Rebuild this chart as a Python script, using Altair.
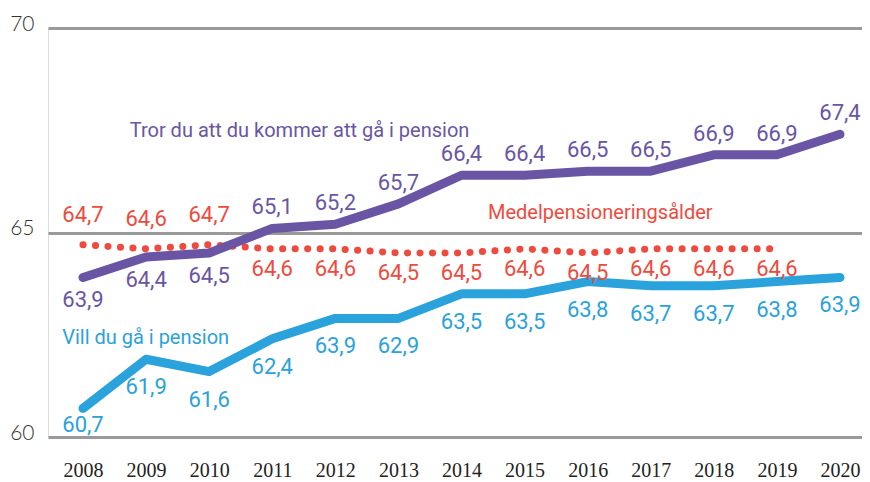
import altair as alt
import pandas as pd

years = list(range(2008, 2021))
tror = [63.9, 64.4, 64.5, 65.1, 65.2, 65.7, 66.4, 66.4, 66.5, 66.5, 66.9, 66.9, 67.4]
tror_labels = ["63,9", "64,4", "64,5", "65,1", "65,2", "65,7", "66,4", "66,4", "66,5", "66,5", "66,9", "66,9", "67,4"]
medel_years = list(range(2008, 2020))
medel = [64.7, 64.6, 64.7, 64.6, 64.6, 64.5, 64.5, 64.6, 64.5, 64.6, 64.6, 64.6]
medel_labels = ["64,7", "64,6", "64,7", "64,6", "64,6", "64,5", "64,5", "64,6", "64,5", "64,6", "64,6", "64,6"]
vill = [60.7, 61.9, 61.6, 62.4, 62.9, 62.9, 63.5, 63.5, 63.8, 63.7, 63.7, 63.8, 63.9]
vill_labels = ["60,7", "61,9", "61,6", "62,4", "63,9", "62,9", "63,5", "63,5", "63,8", "63,7", "63,7", "63,8", "63,9"]

series_names = ["Tror du att du kommer att gå i pension", "Medelpensioneringsålder", "Vill du gå i pension"]
ann_x = [2008.74, 2014.42, 2007.67]
ann_y = [67.48, 65.48, 62.42]

PURPLE = "#6A55A4"
RED = "#EE4B3E"
BLUE = "#2AA2DB"
LABEL_FONT = "Roboto, sans-serif"

df_t = pd.DataFrame({"year": years, "value": tror, "label": tror_labels})
df_m = pd.DataFrame({"year": medel_years, "value": medel, "label": medel_labels})
df_v = pd.DataFrame({"year": years, "value": vill, "label": vill_labels})
df_a = pd.DataFrame({"name": series_names, "year": ann_x, "value": ann_y,
                     "color": [PURPLE, RED, BLUE]})

xs = alt.Scale(domain=[2007.445, 2020.349], nice=False, zero=False)
ys = alt.Scale(domain=[60, 70], nice=False, zero=False)

X = alt.X("year:Q", scale=xs, title=None,
          axis=alt.Axis(values=years, format="d", grid=False, domain=False, ticks=False,
                        labelFont="Liberation Serif", labelFontSize=20, labelColor="#222",
                        labelPadding=23, labelFlush=False, labelOverlap=False))
Y = alt.Y("value:Q", scale=ys, title=None,
          axis=alt.Axis(values=[60, 65, 70], grid=True, gridColor="#9a9a9a", gridWidth=3,
                        domain=False, ticks=False, labelFont="Lato", labelFontWeight=300,
                        labelFontSize=21, labelColor="#333", labelPadding=14,
                        labelOffset=-4))

base_x = alt.X("year:Q", scale=xs)
base_y = alt.Y("value:Q", scale=ys)

medel_line = alt.Chart(df_m).mark_line(color=RED, strokeWidth=7, strokeCap="round",
                                        strokeDash=[0.1, 12.4]).encode(x=X, y=Y)
tror_line = alt.Chart(df_t).mark_line(color=PURPLE, strokeWidth=9, strokeCap="round",
                                       strokeJoin="round").encode(x=base_x, y=base_y)
vill_line = alt.Chart(df_v).mark_line(color=BLUE, strokeWidth=9, strokeCap="round",
                                       strokeJoin="round").encode(x=base_x, y=base_y)

def labels(df, color, dy, cond):
    return alt.Chart(df).transform_filter(cond).mark_text(
        color=color, font=LABEL_FONT, fontSize=22, dy=dy, baseline="middle"
    ).encode(x=base_x, y=base_y, text="label:N")

t_below = labels(df_t, PURPLE, 23, alt.datum.year < 2011)
t_above = labels(df_t, PURPLE, -21, alt.datum.year >= 2011)
m_above = labels(df_m, RED, -30, alt.datum.year < 2011)
m_below = labels(df_m, RED, 20, alt.datum.year >= 2011)
v_low = labels(df_v, BLUE, 17, alt.datum.year == 2008)
v_below = labels(df_v, BLUE, 28, alt.datum.year > 2008)

ann = alt.Chart(df_a).mark_text(font=LABEL_FONT, fontSize=20, align="left",
                                baseline="middle").encode(
    x=base_x, y=base_y, text="name:N", color=alt.Color("color:N", scale=None))

chart = alt.layer(medel_line, tror_line, vill_line, t_below, t_above, m_above, m_below,
                  v_low, v_below, ann).properties(
    width=814, height=409,
    padding={"left": 40, "top": 20, "right": 0, "bottom": 44},
    autosize=alt.AutoSizeParams(type="none"),
).configure_view(stroke=None).configure(background="white")

chart.save("out.html", embed_options={"renderer": "svg", "actions": False})
